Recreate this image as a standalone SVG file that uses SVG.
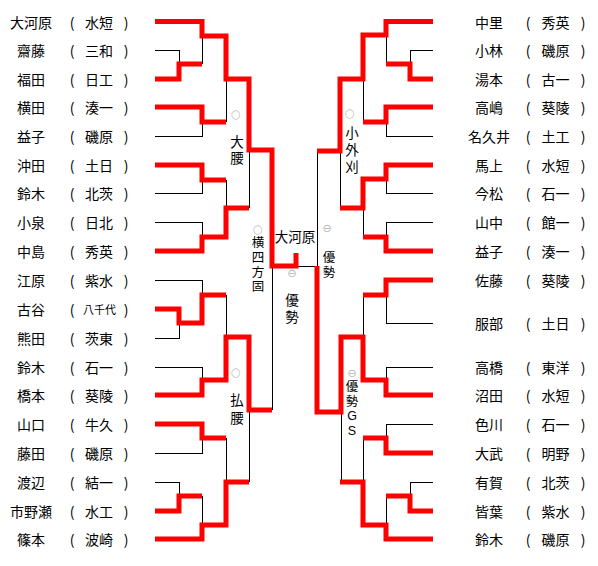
<svg xmlns="http://www.w3.org/2000/svg" width="598" height="566" viewBox="0 0 598 566">
<style>
text{font-family:"Noto Sans CJK JP","Noto Sans",sans-serif;fill:#000;dominant-baseline:central;text-anchor:middle}
.n{font-size:14px}
.s{font-size:11px}
.j{font-size:13.5px;font-family:"Liberation Sans","Noto Sans CJK JP",sans-serif}
.v{font-size:12.5px;font-family:"Liberation Sans","Noto Sans CJK JP",sans-serif}
.m{font-size:11.5px;fill:#bdbdbd;font-family:"DejaVu Sans","Noto Sans CJK JP",sans-serif}
.t{fill:none;stroke:#000;stroke-width:1;shape-rendering:crispEdges}
.r{fill:none;stroke:#ff0000;stroke-width:5;stroke-linejoin:miter}
</style>
<rect width="598" height="566" fill="#fff"/>
<g id="connectors">
<g id="thin">
<path class="t" d="M155,50H179V64M202,36V64M155,136H202V122M226,79V122M155,193H202V180M155,222H202V237M226,180V208M249,150V208M272,266V410M155,280H202V295M155,338H179V323M155,367H202V380M226,295V337M249,410V482M155,453H202V438M226,438V482M155,482H179V496M202,496V525M296,266H317M317,151V266"/>
<path class="t" d="M433,50H410V64M386,35V64M433,136H386V122M363,79V122M433,193H386V179M433,222H386V237M363,208V237M340,151V208M433,323H386V295M363,295V337M433,367H386V380M341,412V482M433,424H386V438M363,438V482M433,482H410V496M386,496V525"/>
</g>
<g id="winners">
<path class="r" d="M155,21.5H202V36H226V79H249V150H272V266H296V253"/>
<path class="r" d="M155,79H179V64H202"/>
<path class="r" d="M155,107H202V122H226"/>
<path class="r" d="M155,165H202V180H226"/>
<path class="r" d="M155,251H202V237H226V208H249"/>
<path class="r" d="M155,309H179V323H202V295H226"/>
<path class="r" d="M155,395H202V380H226V337H249V410H272"/>
<path class="r" d="M155,424H202V438H226"/>
<path class="r" d="M155,539H202V525H226V482H249"/>
<path class="r" d="M155,511H179V496H202"/>
<path class="r" d="M433,21.5H386V35H363V79H340V151H317"/>
<path class="r" d="M433,79H410V64H386"/>
<path class="r" d="M433,107H386V122H363"/>
<path class="r" d="M433,165H386V179H363V208H340"/>
<path class="r" d="M433,251H386V237H363"/>
<path class="r" d="M433,280H386V295H363"/>
<path class="r" d="M433,395H386V380H363V337H341V412H317V266"/>
<path class="r" d="M433,453H386V438H363"/>
<path class="r" d="M433,539H386V525H363V482H340"/>
<path class="r" d="M433,511H410V496H386"/>
</g>
</g>
<g id="left-players">
<g id="L1"><text class="n" x="31" y="21.5">大河原</text><text class="n" x="72" y="21.5">(</text><text class="n" x="99" y="21.5">水短</text><text class="n" x="126" y="21.5">)</text></g>
<g id="L2"><text class="n" x="31" y="50">齋藤</text><text class="n" x="72" y="50">(</text><text class="n" x="99" y="50">三和</text><text class="n" x="126" y="50">)</text></g>
<g id="L3"><text class="n" x="31" y="79">福田</text><text class="n" x="72" y="79">(</text><text class="n" x="99" y="79">日工</text><text class="n" x="126" y="79">)</text></g>
<g id="L4"><text class="n" x="31" y="107">横田</text><text class="n" x="72" y="107">(</text><text class="n" x="99" y="107">湊一</text><text class="n" x="126" y="107">)</text></g>
<g id="L5"><text class="n" x="31" y="136">益子</text><text class="n" x="72" y="136">(</text><text class="n" x="99" y="136">磯原</text><text class="n" x="126" y="136">)</text></g>
<g id="L6"><text class="n" x="31" y="165">沖田</text><text class="n" x="72" y="165">(</text><text class="n" x="99" y="165">土日</text><text class="n" x="126" y="165">)</text></g>
<g id="L7"><text class="n" x="31" y="193">鈴木</text><text class="n" x="72" y="193">(</text><text class="n" x="99" y="193">北茨</text><text class="n" x="126" y="193">)</text></g>
<g id="L8"><text class="n" x="31" y="222">小泉</text><text class="n" x="72" y="222">(</text><text class="n" x="99" y="222">日北</text><text class="n" x="126" y="222">)</text></g>
<g id="L9"><text class="n" x="31" y="251">中島</text><text class="n" x="72" y="251">(</text><text class="n" x="99" y="251">秀英</text><text class="n" x="126" y="251">)</text></g>
<g id="L10"><text class="n" x="31" y="280">江原</text><text class="n" x="72" y="280">(</text><text class="n" x="99" y="280">紫水</text><text class="n" x="126" y="280">)</text></g>
<g id="L11"><text class="n" x="31" y="309">古谷</text><text class="n" x="72" y="309">(</text><text class="s" x="99.5" y="309">八千代</text><text class="n" x="126" y="309">)</text></g>
<g id="L12"><text class="n" x="31" y="338">熊田</text><text class="n" x="72" y="338">(</text><text class="n" x="99" y="338">茨東</text><text class="n" x="126" y="338">)</text></g>
<g id="L13"><text class="n" x="31" y="367">鈴木</text><text class="n" x="72" y="367">(</text><text class="n" x="99" y="367">石一</text><text class="n" x="126" y="367">)</text></g>
<g id="L14"><text class="n" x="31" y="395">橋本</text><text class="n" x="72" y="395">(</text><text class="n" x="99" y="395">葵陵</text><text class="n" x="126" y="395">)</text></g>
<g id="L15"><text class="n" x="31" y="424">山口</text><text class="n" x="72" y="424">(</text><text class="n" x="99" y="424">牛久</text><text class="n" x="126" y="424">)</text></g>
<g id="L16"><text class="n" x="31" y="453">藤田</text><text class="n" x="72" y="453">(</text><text class="n" x="99" y="453">磯原</text><text class="n" x="126" y="453">)</text></g>
<g id="L17"><text class="n" x="31" y="482">渡辺</text><text class="n" x="72" y="482">(</text><text class="n" x="99" y="482">結一</text><text class="n" x="126" y="482">)</text></g>
<g id="L18"><text class="n" x="31" y="511">市野瀬</text><text class="n" x="72" y="511">(</text><text class="n" x="99" y="511">水工</text><text class="n" x="126" y="511">)</text></g>
<g id="L19"><text class="n" x="31" y="539">篠本</text><text class="n" x="72" y="539">(</text><text class="n" x="99" y="539">波崎</text><text class="n" x="126" y="539">)</text></g>
</g>
<g id="right-players">
<g id="R1"><text class="n" x="489" y="21.5">中里</text><text class="n" x="528" y="21.5">(</text><text class="n" x="555.5" y="21.5">秀英</text><text class="n" x="583" y="21.5">)</text></g>
<g id="R2"><text class="n" x="489" y="50">小林</text><text class="n" x="528" y="50">(</text><text class="n" x="555.5" y="50">磯原</text><text class="n" x="583" y="50">)</text></g>
<g id="R3"><text class="n" x="489" y="79">湯本</text><text class="n" x="528" y="79">(</text><text class="n" x="555.5" y="79">古一</text><text class="n" x="583" y="79">)</text></g>
<g id="R4"><text class="n" x="489" y="107">高嶋</text><text class="n" x="528" y="107">(</text><text class="n" x="555.5" y="107">葵陵</text><text class="n" x="583" y="107">)</text></g>
<g id="R5"><text class="n" x="489" y="136">名久井</text><text class="n" x="528" y="136">(</text><text class="n" x="555.5" y="136">土工</text><text class="n" x="583" y="136">)</text></g>
<g id="R6"><text class="n" x="489" y="165">馬上</text><text class="n" x="528" y="165">(</text><text class="n" x="555.5" y="165">水短</text><text class="n" x="583" y="165">)</text></g>
<g id="R7"><text class="n" x="489" y="193">今松</text><text class="n" x="528" y="193">(</text><text class="n" x="555.5" y="193">石一</text><text class="n" x="583" y="193">)</text></g>
<g id="R8"><text class="n" x="489" y="222">山中</text><text class="n" x="528" y="222">(</text><text class="n" x="555.5" y="222">館一</text><text class="n" x="583" y="222">)</text></g>
<g id="R9"><text class="n" x="489" y="251">益子</text><text class="n" x="528" y="251">(</text><text class="n" x="555.5" y="251">湊一</text><text class="n" x="583" y="251">)</text></g>
<g id="R10"><text class="n" x="489" y="280">佐藤</text><text class="n" x="528" y="280">(</text><text class="n" x="555.5" y="280">葵陵</text><text class="n" x="583" y="280">)</text></g>
<g id="R11"><text class="n" x="489" y="323">服部</text><text class="n" x="528" y="323">(</text><text class="n" x="555.5" y="323">土日</text><text class="n" x="583" y="323">)</text></g>
<g id="R12"><text class="n" x="489" y="367">高橋</text><text class="n" x="528" y="367">(</text><text class="n" x="555.5" y="367">東洋</text><text class="n" x="583" y="367">)</text></g>
<g id="R13"><text class="n" x="489" y="395">沼田</text><text class="n" x="528" y="395">(</text><text class="n" x="555.5" y="395">水短</text><text class="n" x="583" y="395">)</text></g>
<g id="R14"><text class="n" x="489" y="424">色川</text><text class="n" x="528" y="424">(</text><text class="n" x="555.5" y="424">石一</text><text class="n" x="583" y="424">)</text></g>
<g id="R15"><text class="n" x="489" y="453">大武</text><text class="n" x="528" y="453">(</text><text class="n" x="555.5" y="453">明野</text><text class="n" x="583" y="453">)</text></g>
<g id="R16"><text class="n" x="489" y="482">有賀</text><text class="n" x="528" y="482">(</text><text class="n" x="555.5" y="482">北茨</text><text class="n" x="583" y="482">)</text></g>
<g id="R17"><text class="n" x="489" y="511">皆葉</text><text class="n" x="528" y="511">(</text><text class="n" x="555.5" y="511">紫水</text><text class="n" x="583" y="511">)</text></g>
<g id="R18"><text class="n" x="489" y="539">鈴木</text><text class="n" x="528" y="539">(</text><text class="n" x="555.5" y="539">磯原</text><text class="n" x="583" y="539">)</text></g>
</g>
<g id="results">
<g id="res-ogoshi1"><text class="m" x="236" y="114">○</text><text class="j" x="237" y="142">大</text><text class="j" x="237" y="158">腰</text></g>
<g id="res-yoko"><text class="m" x="258" y="229">○</text><text class="v" x="258" y="243">横</text><text class="v" x="258" y="258">四</text><text class="v" x="258" y="272.5">方</text><text class="v" x="258" y="287">固</text></g>
<g id="res-harai"><text class="m" x="236" y="372">○</text><text class="j" x="237" y="400">払</text><text class="j" x="237" y="418">腰</text></g>
<g id="champion"><text class="j" x="295" y="237">大河原</text></g>
<g id="res-final"><text class="m" x="292" y="273">⊖</text><text class="j" x="292" y="300">優</text><text class="j" x="292" y="317">勢</text></g>
<g id="res-kosoto"><text class="m" x="350" y="113">○</text><text class="j" x="352" y="133">小</text><text class="j" x="352" y="150">外</text><text class="j" x="352" y="167">刈</text></g>
<g id="res-semi"><text class="m" x="327" y="228">⊖</text><text class="v" x="329" y="258">優</text><text class="v" x="329" y="273">勢</text></g>
<g id="res-gs"><text class="m" x="352" y="372.5">⊖</text><text class="v" x="352" y="387">優</text><text class="v" x="352" y="401.5">勢</text><text class="v" x="352" y="416">G</text><text class="v" x="352" y="430.5">S</text></g>
</g>
</svg>
